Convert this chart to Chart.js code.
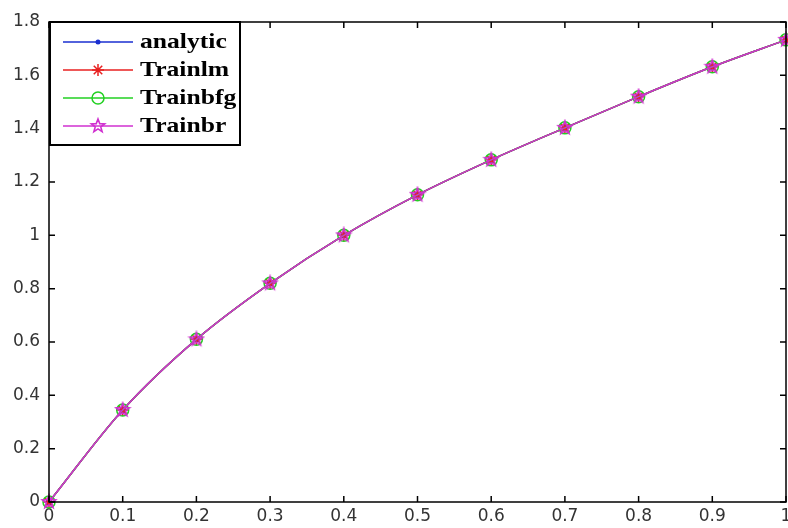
<!DOCTYPE html>
<html>
<head>
<meta charset="utf-8">
<script src="https://cdn.jsdelivr.net/npm/chart.js@4.4.1/dist/chart.umd.min.js"></script>
<style>
  html, body { margin: 0; padding: 0; background: #fff; }
  #wrap { width: 788px; height: 528px; }
</style>
</head>
<body>
<div id="wrap"><canvas id="c" width="788" height="528"></canvas></div>
<script>
// values (all four curves sit on top of each other)
const xValues = [0, 0.1, 0.2, 0.3, 0.4, 0.5, 0.6, 0.7, 0.8, 0.9, 1];
const analytic = [0, 0.345, 0.61, 0.82, 1.0, 1.152, 1.283, 1.403, 1.52, 1.632, 1.733];
const trainlm  = [0, 0.345, 0.61, 0.82, 1.0, 1.152, 1.283, 1.403, 1.52, 1.632, 1.733];
const trainbfg = [0, 0.345, 0.61, 0.82, 1.0, 1.152, 1.283, 1.403, 1.52, 1.632, 1.733];
const trainbr  = [0, 0.345, 0.61, 0.82, 1.0, 1.152, 1.283, 1.403, 1.52, 1.632, 1.733];
const seriesNames = ["analytic", "Trainlm", "Trainbfg", "Trainbr"];
const xTickLabels = ["0", "0.1", "0.2", "0.3", "0.4", "0.5", "0.6", "0.7", "0.8", "0.9", "1"];
const yTickLabels = ["0", "0.2", "0.4", "0.6", "0.8", "1", "1.2", "1.4", "1.6", "1.8"];

const BLUE = "#1a2fd0";
const RED = "#e82020";
const GREEN = "#22d022";
const MAGENTA = "#d030d0";

// pentagram marker for Trainbr
function makeStar(color, r) {
  const cv = document.createElement("canvas");
  const s = Math.ceil(r * 2 + 4);
  cv.width = s; cv.height = s;
  const g = cv.getContext("2d");
  g.beginPath();
  for (let i = 0; i < 10; i++) {
    const rr = i % 2 === 0 ? r : r * 0.42;
    const a = -Math.PI / 2 + i * Math.PI / 5;
    const px = s / 2 + rr * Math.cos(a);
    const py = s / 2 + rr * Math.sin(a);
    if (i === 0) g.moveTo(px, py); else g.lineTo(px, py);
  }
  g.closePath();
  g.strokeStyle = color;
  g.lineWidth = 1.6;
  g.stroke();
  return cv;
}
const starImg = makeStar(MAGENTA, 7);

function pts(arr) { return xValues.map((x, i) => ({ x, y: arr[i] })); }

const styles = [
  { color: BLUE, pointStyle: "circle", radius: 2.5, fill: BLUE },
  { color: RED, pointStyle: "star", radius: 6, fill: RED },
  { color: GREEN, pointStyle: "circle", radius: 6, fill: "rgba(0,0,0,0)" },
  { color: MAGENTA, pointStyle: starImg, radius: 7, fill: MAGENTA },
];
const allData = [analytic, trainlm, trainbfg, trainbr];

const datasets = allData.map((d, i) => ({
  label: seriesNames[i],
  data: pts(d),
  borderColor: styles[i].color,
  backgroundColor: styles[i].fill,
  pointBorderColor: styles[i].color,
  pointBackgroundColor: styles[i].fill,
  pointStyle: styles[i].pointStyle,
  pointRadius: styles[i].radius,
  pointBorderWidth: 1.5,
  borderWidth: 1.5,
  cubicInterpolationMode: "monotone",
  clip: false,
  order: 3 - i,
}));

// MATLAB-style box: inward ticks on all four sides, plus boxed legend
const matlabBox = {
  id: "matlabBox",
  afterDraw(chart) {
    const { ctx, chartArea: a } = chart;
    const xs = chart.scales.x, ys = chart.scales.y;
    ctx.save();
    ctx.strokeStyle = "#000";
    ctx.lineWidth = 1.5;
    ctx.strokeRect(a.left, a.top, a.right - a.left, a.bottom - a.top);
    const tl = 6;
    ctx.beginPath();
    xValues.forEach((v) => {
      const px = xs.getPixelForValue(v);
      ctx.moveTo(px, a.bottom); ctx.lineTo(px, a.bottom - tl);
      ctx.moveTo(px, a.top); ctx.lineTo(px, a.top + tl);
    });
    yTickLabels.forEach((t) => {
      const py = ys.getPixelForValue(parseFloat(t));
      ctx.moveTo(a.left, py); ctx.lineTo(a.left + tl, py);
      ctx.moveTo(a.right, py); ctx.lineTo(a.right - tl, py);
    });
    ctx.stroke();

    // legend
    const L = { x: 50, y: 22, w: 190, h: 123 };
    ctx.fillStyle = "#fff";
    ctx.fillRect(L.x, L.y, L.w, L.h);
    ctx.lineWidth = 2;
    ctx.strokeRect(L.x, L.y, L.w, L.h);
    const rows = [42, 70, 98, 126];
    seriesNames.forEach((name, i) => {
      const ry = rows[i];
      const st = styles[i];
      ctx.strokeStyle = st.color;
      ctx.fillStyle = st.fill;
      ctx.lineWidth = 1.5;
      ctx.beginPath();
      ctx.moveTo(63, ry); ctx.lineTo(133, ry);
      ctx.stroke();
      if (st.pointStyle === "circle") {
        ctx.beginPath();
        ctx.arc(98, ry, st.radius, 0, Math.PI * 2);
        if (i === 0) ctx.fill(); else ctx.stroke();
      } else {
        Chart.helpers.drawPoint(ctx, {
          pointStyle: st.pointStyle,
          radius: st.radius,
          borderWidth: 1.5,
          rotation: 0,
        }, 98, ry);
      }
      ctx.save();
      ctx.translate(140, ry);
      ctx.scale(1.22, 1);
      ctx.fillStyle = "#000";
      ctx.font = "bold 21px 'Liberation Serif'";
      ctx.textBaseline = "middle";
      ctx.textAlign = "left";
      ctx.fillText(name, 0, 1);
      ctx.restore();
    });
    ctx.restore();
  },
};

new Chart(document.getElementById("c"), {
  type: "line",
  data: { datasets },
  plugins: [matlabBox],
  options: {
    responsive: false,
    animation: false,
    layout: { autoPadding: false, padding: { top: 22, right: 2, left: 0, bottom: 0 } },
    plugins: { legend: { display: false }, tooltip: { enabled: false } },
    scales: {
      x: {
        type: "linear",
        min: 0,
        max: 1,
        afterBuildTicks: (s) => { s.ticks = xValues.map((v) => ({ value: v })); },
        afterFit: (s) => { s.height = 26; s.paddingLeft = 0; s.paddingRight = 0; },
        ticks: {
          color: "#333",
          padding: 4,
          maxRotation: 0,
          autoSkip: false,
          font: { family: "DejaVu Sans", size: 17 },
          callback: (v, i) => xTickLabels[i],
        },
        grid: { display: false, drawTicks: false },
        border: { display: false },
      },
      y: {
        type: "linear",
        min: 0,
        max: 1.8,
        afterBuildTicks: (s) => { s.ticks = yTickLabels.map((t) => ({ value: parseFloat(t) })); },
        afterFit: (s) => { s.width = 49; s.paddingTop = 0; s.paddingBottom = 0; },
        ticks: {
          color: "#333",
          padding: 9,
          autoSkip: false,
          font: { family: "DejaVu Sans", size: 17 },
          callback: (v, i) => yTickLabels[i],
        },
        grid: { display: false, drawTicks: false },
        border: { display: false },
      },
    },
  },
});
</script>
</body>
</html>
